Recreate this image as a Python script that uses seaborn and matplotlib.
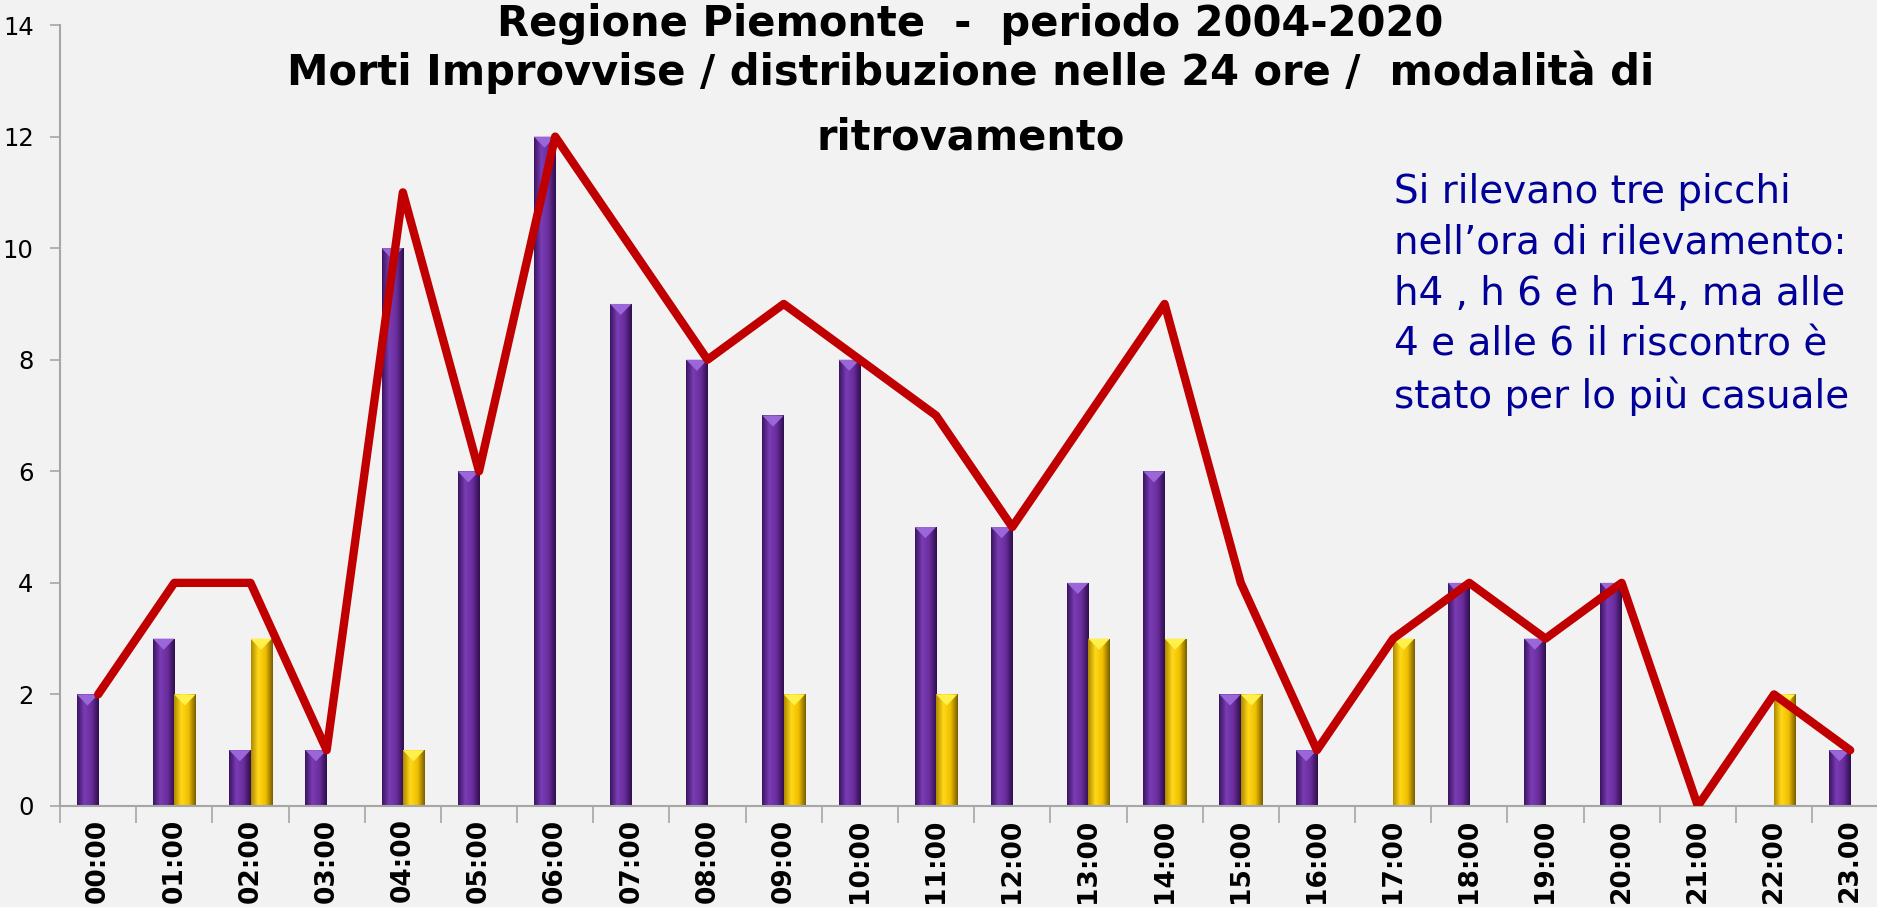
import matplotlib
matplotlib.use('Agg')
import matplotlib.pyplot as plt
from matplotlib.colors import LinearSegmentedColormap
import numpy as np
import pandas as pd
import seaborn as sns

# dati
ore = ['00:00', '01:00', '02:00', '03:00', '04:00', '05:00', '06:00', '07:00',
       '08:00', '09:00', '10:00', '11:00', '12:00', '13:00', '14:00', '15:00',
       '16:00', '17:00', '18:00', '19:00', '20:00', '21:00', '22:00', '23.00']
viola = [2, 3, 1, 1, 10, 6, 12, 9, 8, 7, 8, 5, 5, 4, 6, 2, 1, 0, 4, 3, 4, 0, 0, 1]
giallo = [0, 2, 3, 0, 1, 0, 0, 0, 0, 2, 0, 2, 0, 3, 3, 2, 0, 3, 0, 0, 0, 0, 2, 0]
linea = [2, 4, 4, 1, 11, 6, 12, 10, 8, 9, 8, 7, 5, 7, 9, 4, 1, 3, 4, 3, 4, 0, 2, 1]

titolo = ['Regione Piemonte  -  periodo 2004-2020',
          'Morti Improvvise / distribuzione nelle 24 ore /  modalità di',
          'ritrovamento']
nota = ['Si rilevano tre picchi',
        'nell\u2019ora di rilevamento:',
        'h4 , h 6 e h 14, ma alle',
        '4 e alle 6 il riscontro è',
        'stato per lo più casuale']

BG = '#f2f2f2'
VIOLA = '#6a2d9c'
GIALLO = '#f7c600'
ROSSO = '#c00000'
GRIGIO = '#a6a6a6'

sns.set_theme(style='white')
plt.rcParams['font.family'] = ['DejaVu Sans']

df = pd.DataFrame({
    'ora': ore * 2,
    'n': viola + giallo,
    'serie': ['viola'] * len(ore) + ['giallo'] * len(ore),
})

fig = plt.figure(figsize=(18.77, 9.07), dpi=100, facecolor=BG)
ax = fig.add_axes([0.032, 0.1114, 0.974, 0.861])
ax.set_facecolor(BG)

sns.barplot(data=df, x='ora', y='n', hue='serie', order=ore,
            hue_order=['viola', 'giallo'], palette=[VIOLA, GIALLO],
            width=0.56, dodge=True, saturation=1, legend=False,
            edgecolor='none', linewidth=0, ax=ax)

# effetto cilindrico sulle barre
cmaps = {
    'viola': LinearSegmentedColormap.from_list('v', ['#3a1560', '#7a3cb4', '#6a2d9c', '#2e0f4d']),
    'giallo': LinearSegmentedColormap.from_list('g', ['#b08a00', '#ffd81a', '#f0c000', '#7a5e00']),
}
grad = np.linspace(0, 1, 64).reshape(1, -1)
for p in list(ax.patches):
    h = p.get_height()
    if h <= 0:
        continue
    x0, w = p.get_x(), p.get_width()
    key = 'viola' if np.allclose(p.get_facecolor()[:3], matplotlib.colors.to_rgb(VIOLA), atol=0.05) else 'giallo'
    im = ax.imshow(grad, extent=[x0, x0 + w, 0, h], aspect='auto',
                   cmap=cmaps[key], zorder=p.get_zorder() + 0.1)
    im.set_clip_path(p)
    tip = '#9a66d8' if key == 'viola' else '#fff04a'
    ax.fill([x0, x0 + w, x0 + w / 2], [h, h, h - 0.2], color=tip,
            zorder=p.get_zorder() + 0.2, lw=0)

sns.lineplot(x=np.arange(len(ore)), y=linea, color=ROSSO, linewidth=6,
             ax=ax, zorder=5, solid_joinstyle='round', solid_capstyle='round')

ax.set_xlim(-0.5, len(ore) - 0.5)
ax.set_ylim(0, 14)
ax.set_yticks(range(0, 15, 2))
ax.set_xlabel('')
ax.set_ylabel('')

ax.set_xticks(np.arange(len(ore)))
ax.set_xticklabels(ore, rotation=90, fontsize=19, fontweight='bold', va='top')
ax.set_xticks(np.arange(-0.5, len(ore), 1), minor=True)
ax.tick_params(axis='x', which='major', length=0, pad=9, colors='black')
ax.tick_params(axis='x', which='minor', length=12, width=1.2, color=GRIGIO, bottom=True)
ax.tick_params(axis='y', length=7, width=1.2, color=GRIGIO, pad=12,
               labelsize=17.5, labelcolor='black', left=True)

for s in ['top', 'right']:
    ax.spines[s].set_visible(False)
for s in ['left', 'bottom']:
    ax.spines[s].set_color(GRIGIO)
    ax.spines[s].set_linewidth(1.5)

# titolo su tre righe (la prima abbassata quanto basta per restare nel riquadro)
for y_px, riga in zip([24, 72, 137], titolo):
    fig.text(0.517, 1 - y_px / 907, riga, ha='center', va='center',
             fontsize=30, fontweight='bold', color='black')

for i, riga in enumerate(nota):
    fig.text(1394 / 1877, 1 - (192 + 51 * i) / 907, riga, ha='left', va='center',
             fontsize=28, color='#000099')

fig.savefig('out.png', dpi=100, facecolor=BG)
